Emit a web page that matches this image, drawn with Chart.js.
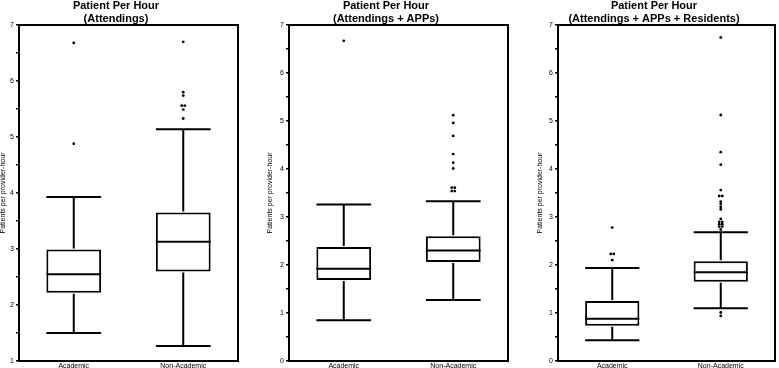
<!DOCTYPE html>
<html>
<head>
<meta charset="utf-8">
<script src="https://cdn.jsdelivr.net/npm/chart.js@4/dist/chart.umd.min.js"></script>
<style>
  body { margin: 0; background: #fff; }
  canvas { position: absolute; top: 0; }
</style>
</head>
<body>
<canvas id="c1" width="260" height="368" style="left:0px"></canvas>
<canvas id="c2" width="259" height="368" style="left:260px"></canvas>
<canvas id="c3" width="260" height="368" style="left:519px"></canvas>
<script>
const categories = ["Academic", "Non-Academic"];
const titleTop = "Patient Per Hour";
const yTitle = "Patients per provider-hour";

// Attendings
const attLow = [1.50, 1.27];
const attQ1 = [2.22, 2.60];
const attMedian = [2.55, 3.13];
const attQ3 = [2.99, 3.65];
const attHigh = [3.93, 5.14];
const attOutliers = [
  [4.88, 6.68],
  [5.33, 5.49, 5.56, 5.56, 5.74, 5.80, 6.70]
];

// Attendings + APPs
const appLow = [0.85, 1.27];
const appQ1 = [1.69, 2.06];
const appMedian = [1.92, 2.30];
const appQ3 = [2.375, 2.60];
const appHigh = [3.26, 3.33];
const appOutliers = [
  [6.67],
  [3.54, 3.54, 3.61, 3.61, 4.01, 4.13, 4.31, 4.69, 4.96, 5.12]
];

// Attendings + APPs + Residents
const resLow = [0.43, 1.10];
const resQ1 = [0.735, 1.65];
const resMedian = [0.88, 1.85];
const resQ3 = [1.25, 2.08];
const resHigh = [1.94, 2.68];
const resOutliers = [
  [2.10, 2.23, 2.23, 2.78],
  [0.94, 1.01, 2.74, 2.80, 2.80, 2.85, 2.85, 2.90, 2.90, 2.96, 3.16, 3.21, 3.27, 3.32, 3.44, 3.44, 3.56, 4.09, 4.35, 5.125, 6.74]
];

const FONT = "'Liberation Sans', Arial, sans-serif";
const HALF = 0.25; // half box width in category units

const boxPlot = {
  id: "boxPlot",
  afterDatasetsDraw(chart, args, opts) {
    const { ctx, chartArea: a } = chart;
    const x = chart.scales.x, y = chart.scales.y;
    const s = opts.stats;
    ctx.save();
    ctx.strokeStyle = "#000";
    ctx.lineWidth = 2;
    ctx.beginPath();
    categories.forEach((c, i) => {
      const cx = x.getPixelForValue(i);
      const l = x.getPixelForValue(i - HALF);
      const r = x.getPixelForValue(i + HALF);
      const pHigh = y.getPixelForValue(s.high[i]);
      const pLow = y.getPixelForValue(s.low[i]);
      const pMed = y.getPixelForValue(s.median[i]);
      ctx.moveTo(cx, y.getPixelForValue(s.q3[i]) - 1); ctx.lineTo(cx, pHigh);
      ctx.moveTo(cx, y.getPixelForValue(s.q1[i]) + 1); ctx.lineTo(cx, pLow);
      ctx.moveTo(l, pHigh); ctx.lineTo(r, pHigh);
      ctx.moveTo(l, pLow); ctx.lineTo(r, pLow);
      ctx.moveTo(l, pMed); ctx.lineTo(r, pMed);
    });
    ctx.stroke();
    ctx.strokeRect(a.left, a.top, a.right - a.left, a.bottom - a.top);

    ctx.fillStyle = "#000";
    ctx.font = "bold 11px " + FONT;
    ctx.textAlign = "center";
    ctx.textBaseline = "alphabetic";
    const tx = (a.left + a.right) / 2 - 12.5;
    ctx.fillText(titleTop, tx, 9);
    ctx.fillText(opts.subtitle, tx, 21.5);
    ctx.restore();
  }
};

// spread repeated values a little sideways so they show side by side
function outlierPoints(lists) {
  const pts = [];
  lists.forEach((vals, i) => {
    const seen = {};
    vals.forEach(v => {
      const n = vals.filter(w => w === v).length;
      seen[v] = (seen[v] || 0) + 1;
      const off = n > 1 ? (seen[v] - (n + 1) / 2) * 0.028 : 0;
      pts.push({ x: i + off, y: v });
    });
  });
  return pts;
}

function makePanel(id, subtitle, st, outliers, yMin, pad) {
  new Chart(document.getElementById(id), {
    type: "bar",
    data: {
      datasets: [
        {
          type: "bar",
          data: categories.map((c, i) => ({ x: i, y: [st.q1[i], st.q3[i]] })),
          backgroundColor: "#fff",
          borderColor: "#000",
          borderWidth: 2,
          borderSkipped: false,
          categoryPercentage: 1,
          barPercentage: HALF * 2
        },
        {
          type: "scatter",
          data: outlierPoints(outliers),
          pointRadius: 1.4,
          pointBackgroundColor: "#000",
          pointBorderWidth: 0,
          showLine: false
        }
      ]
    },
    options: {
      responsive: false,
      animation: false,
      events: [],
      layout: { padding: { top: 25, left: pad.left, right: pad.right, bottom: 0 } },
      plugins: {
        legend: { display: false },
        tooltip: { enabled: false },
        boxPlot: { stats: st, subtitle: subtitle }
      },
      scales: {
        x: {
          type: "linear",
          min: -0.5,
          max: 1.5,
          offset: false,
          afterBuildTicks: sc => { sc.ticks = categories.map((c, i) => ({ value: i })); },
          afterFit: sc => { sc.height = 7; },
          grid: { display: false, drawTicks: false },
          border: { display: false },
          ticks: {
            callback: v => categories[v],
            color: "#000",
            padding: 1,
            maxRotation: 0,
            autoSkip: false,
            font: { family: FONT, size: 7 }
          }
        },
        y: {
          min: yMin,
          max: 7,
          afterFit: sc => { sc.width = pad.axis; },
          border: { display: false },
          grid: { drawOnChartArea: false, color: "#000", lineWidth: 1.5, tickLength: 3 },
          title: {
            display: true,
            text: yTitle,
            color: "#000",
            padding: 0,
            font: { family: FONT, size: 7, lineHeight: 1 }
          },
          ticks: {
            stepSize: 0.5,
            autoSkip: false,
            color: "#000",
            padding: 2,
            font: { family: FONT, size: 7 },
            callback: v => (Number.isInteger(v) ? v : "")
          }
        }
      }
    },
    plugins: [boxPlot]
  });
}

makePanel("c1", "(Attendings)",
  { low: attLow, q1: attQ1, median: attMedian, q3: attQ3, high: attHigh },
  attOutliers, 1, { left: 0, axis: 19, right: 22 });
makePanel("c2", "(Attendings + APPs)",
  { low: appLow, q1: appQ1, median: appMedian, q3: appQ3, high: appHigh },
  appOutliers, 0, { left: 7, axis: 22, right: 11 });
makePanel("c3", "(Attendings + APPs + Residents)",
  { low: resLow, q1: resQ1, median: resMedian, q3: resQ3, high: resHigh },
  resOutliers, 0, { left: 18, axis: 21, right: 1 });
</script>
</body>
</html>
